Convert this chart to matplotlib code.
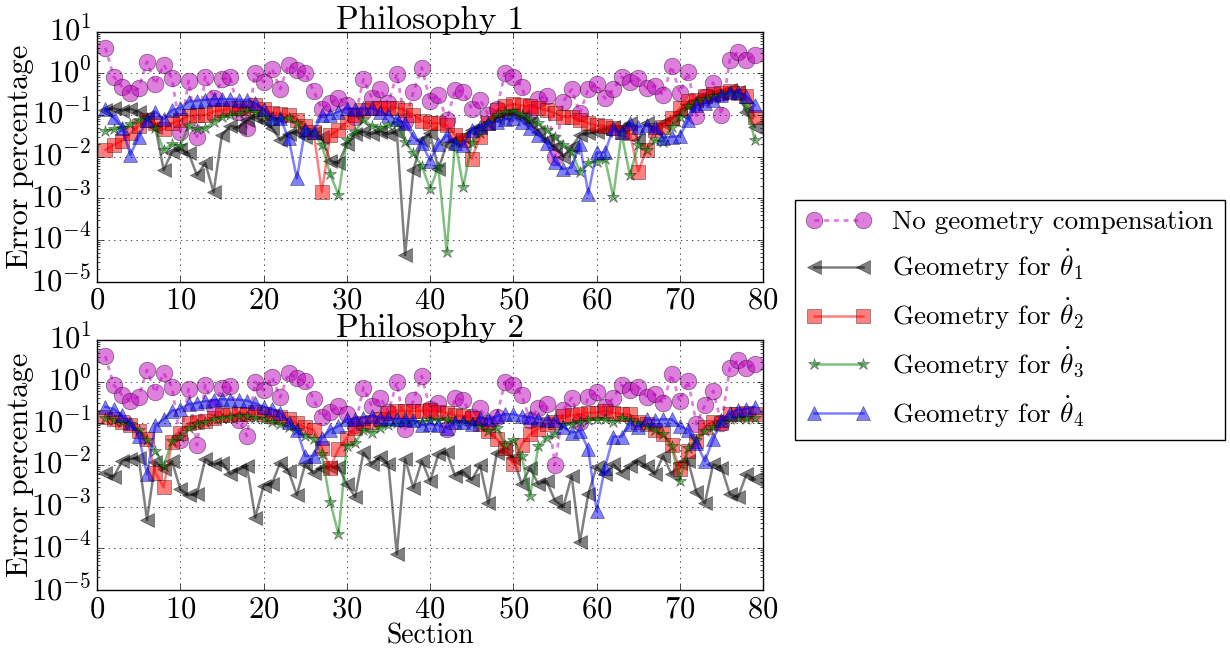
import numpy as np
import matplotlib
matplotlib.use('Agg')
import matplotlib.pyplot as plt

# sections along the path
sections = np.arange(1, 80)

# no geometry compensation (same in both philosophies)
no_comp = [4.1, 0.83, 0.48, 0.34, 0.44, 1.9, 0.55, 1.6, 0.76, 0.04,
           0.66, 0.03, 0.83, 0.25, 0.72, 0.8, 0.12, 0.05, 1.0, 0.62,
           1.3, 0.42, 1.6, 1.2, 1.04, 0.38, 0.14, 0.19, 0.26, 0.17,
           0.09, 0.72, 0.26, 0.41, 0.19, 0.96, 0.072, 0.36, 1.37, 0.22,
           0.30, 0.074, 0.40, 0.36, 0.14, 0.23, 0.1, 0.14, 1.0, 0.83,
           0.48, 0.12, 0.24, 0.29, 0.01, 0.21, 0.41, 0.11, 0.42, 0.55,
           0.25, 0.41, 0.83, 0.63, 0.76, 0.44, 0.5, 0.30, 1.5, 0.34,
           1.05, 0.096, 0.27, 0.6, 0.1, 2.1, 3.3, 2.1, 2.7]

# philosophy 1
p1_theta1 = [0.13, 0.145, 0.127, 0.14, 0.12, 0.09, 0.052, 0.0048, 0.013, 0.015,
             0.012, 0.0036, 0.007, 0.0014, 0.033, 0.055, 0.05, 0.076, 0.09, 0.07,
             0.05, 0.025, 0.035, 0.04, 0.03, 0.036, 0.03, 0.008, 0.007, 0.02,
             0.035, 0.04, 0.035, 0.04, 0.035, 0.04, 4.4e-5, 0.0048, 0.025, 0.036,
             0.005, 0.02, 0.025, 0.03, 0.044, 0.052, 0.065, 0.083, 0.1, 0.11,
             0.09, 0.063, 0.04, 0.025, 0.017, 0.01, 0.017, 0.033, 0.036, 0.04,
             0.044, 0.052, 0.05, 0.063, 0.025, 0.063, 0.045, 0.063, 0.08, 0.12,
             0.17, 0.23, 0.28, 0.3, 0.33, 0.4, 0.36, 0.12, 0.052]
p1_theta2 = [0.0145, 0.019, 0.024, 0.036, 0.055, 0.076, 0.063, 0.045, 0.063, 0.076,
             0.095, 0.1, 0.1, 0.12, 0.13, 0.145, 0.15, 0.15, 0.17, 0.14,
             0.11, 0.105, 0.1, 0.076, 0.055, 0.04, 0.0014, 0.033, 0.044, 0.069,
             0.1, 0.13, 0.145, 0.145, 0.15, 0.15, 0.13, 0.1, 0.073, 0.063,
             0.063, 0.057, 0.033, 0.025, 0.009, 0.03, 0.063, 0.13, 0.166, 0.18,
             0.17, 0.16, 0.145, 0.13, 0.11, 0.09, 0.09, 0.076, 0.063, 0.057,
             0.055, 0.048, 0.04, 0.036, 0.0044, 0.0145, 0.043, 0.052, 0.083, 0.145,
             0.22, 0.23, 0.29, 0.32, 0.33, 0.38, 0.34, 0.28, 0.091]
p1_theta3 = [0.042, 0.045, 0.05, 0.06, 0.076, 0.083, 0.048, 0.0145, 0.02, 0.018,
             0.055, 0.045, 0.048, 0.069, 0.09, 0.1, 0.11, 0.13, 0.12, 0.1,
             0.076, 0.08, 0.083, 0.063, 0.044, 0.036, 0.019, 0.0038, 0.0012, 0.025,
             0.04, 0.076, 0.055, 0.05, 0.057, 0.065, 0.023, 0.012, 0.006, 0.0017,
             0.0055, 5.2e-5, 0.023, 0.0019, 0.021, 0.036, 0.063, 0.1, 0.12, 0.127,
             0.1, 0.079, 0.063, 0.044, 0.03, 0.019, 0.013, 0.0044, 0.007, 0.0076,
             0.009, 0.0011, 0.036, 0.0036, 0.019, 0.0145, 0.025, 0.023, 0.052, 0.09,
             0.16, 0.21, 0.24, 0.28, 0.3, 0.33, 0.3, 0.17, 0.025]
p1_theta4 = [0.14, 0.087, 0.05, 0.011, 0.03, 0.076, 0.12, 0.079, 0.13, 0.15,
             0.21, 0.22, 0.23, 0.24, 0.24, 0.24, 0.23, 0.23, 0.19, 0.14,
             0.083, 0.083, 0.028, 0.003, 0.046, 0.04, 0.1, 0.1, 0.12, 0.145,
             0.14, 0.145, 0.145, 0.12, 0.1, 0.079, 0.063, 0.03, 0.021, 0.008,
             0.02, 0.033, 0.021, 0.019, 0.044, 0.052, 0.063, 0.069, 0.079, 0.083,
             0.069, 0.048, 0.033, 0.021, 0.0076, 0.005, 0.0055, 0.02, 0.0013, 0.0126,
             0.0126, 0.048, 0.04, 0.063, 0.052, 0.057, 0.052, 0.028, 0.03, 0.031,
             0.076, 0.17, 0.19, 0.23, 0.3, 0.36, 0.36, 0.28, 0.17]

# philosophy 2
p2_theta1 = [0.0063, 0.0052, 0.0125, 0.014, 0.015, 0.00048, 0.012, 0.008, 0.0125, 0.0026,
             0.0019, 0.002, 0.014, 0.0104, 0.0114, 0.006, 0.0078, 0.0095, 0.00055, 0.0032,
             0.0035, 0.0114, 0.0072, 0.0019, 0.0104, 0.0063, 0.0086, 0.009, 0.009, 0.0035,
             0.0017, 0.02, 0.0104, 0.016, 0.0104, 7.3e-5, 0.014, 0.0028, 0.0125, 0.0041,
             0.018, 0.02, 0.0056, 0.0068, 0.0044, 0.0098, 0.0012, 0.019, 0.022, 0.015,
             0.0035, 0.0086, 0.0035, 0.0041, 0.0014, 0.001, 0.0055, 0.00014, 0.002, 0.009,
             0.006, 0.0104, 0.0066, 0.0095, 0.0125, 0.0095, 0.006, 0.0165, 0.006, 0.0114,
             0.0125, 0.0022, 0.0012, 0.0104, 0.0087, 0.002, 0.0017, 0.006, 0.0045]
p2_theta2 = [0.145, 0.125, 0.11, 0.09, 0.066, 0.043, 0.0066, 0.0029, 0.036, 0.06,
             0.1, 0.11, 0.115, 0.137, 0.155, 0.16, 0.17, 0.17, 0.19, 0.165,
             0.15, 0.14, 0.125, 0.1, 0.08, 0.07, 0.026, 0.0087, 0.024, 0.045,
             0.079, 0.1, 0.11, 0.125, 0.18, 0.2, 0.2, 0.2, 0.2, 0.21,
             0.19, 0.18, 0.155, 0.15, 0.137, 0.095, 0.066, 0.043, 0.026, 0.0104,
             0.031, 0.054, 0.074, 0.095, 0.11, 0.15, 0.155, 0.165, 0.18, 0.18,
             0.2, 0.18, 0.165, 0.165, 0.11, 0.095, 0.069, 0.054, 0.03, 0.0079,
             0.022, 0.038, 0.083, 0.11, 0.1, 0.165, 0.165, 0.18, 0.165]
p2_theta3 = [0.137, 0.12, 0.107, 0.095, 0.07, 0.04, 0.022, 0.0095, 0.038, 0.048,
             0.078, 0.095, 0.107, 0.125, 0.137, 0.145, 0.15, 0.15, 0.137, 0.13,
             0.11, 0.095, 0.083, 0.07, 0.051, 0.043, 0.018, 0.0013, 0.00022, 0.029,
             0.034, 0.07, 0.06, 0.079, 0.09, 0.1, 0.105, 0.11, 0.11, 0.12,
             0.12, 0.125, 0.11, 0.11, 0.1, 0.086, 0.066, 0.079, 0.031, 0.04,
             0.0165, 0.0018, 0.028, 0.045, 0.057, 0.09, 0.095, 0.11, 0.12, 0.125,
             0.125, 0.11, 0.137, 0.12, 0.1, 0.086, 0.07, 0.054, 0.029, 0.0041,
             0.026, 0.04, 0.066, 0.083, 0.11, 0.125, 0.137, 0.125, 0.137]
p2_theta4 = [0.25, 0.22, 0.155, 0.1, 0.05, 0.006, 0.09, 0.125, 0.2, 0.22,
             0.29, 0.31, 0.34, 0.36, 0.38, 0.37, 0.37, 0.35, 0.3, 0.25,
             0.22, 0.18, 0.11, 0.07, 0.0165, 0.0165, 0.045, 0.07, 0.086, 0.125,
             0.125, 0.137, 0.15, 0.137, 0.137, 0.125, 0.125, 0.12, 0.09, 0.095,
             0.09, 0.079, 0.11, 0.11, 0.095, 0.137, 0.125, 0.15, 0.165, 0.165,
             0.15, 0.14, 0.13, 0.12, 0.12, 0.083, 0.06, 0.065, 0.024, 0.0008,
             0.0087, 0.048, 0.048, 0.095, 0.083, 0.125, 0.12, 0.125, 0.125, 0.086,
             0.07, 0.033, 0.0125, 0.041, 0.12, 0.18, 0.21, 0.22, 0.25]

labels = ['No geometry compensation',
          r'Geometry for $\dot{\theta}_1$',
          r'Geometry for $\dot{\theta}_2$',
          r'Geometry for $\dot{\theta}_3$',
          r'Geometry for $\dot{\theta}_4$']

plt.style.use('classic')
plt.rcParams.update({
    'font.family': 'serif',
    'font.serif': ['cmr10'],
    'mathtext.fontset': 'cm',
    'axes.unicode_minus': False,
    'axes.formatter.use_mathtext': True,
    'font.size': 19,
    'xtick.labelsize': 22,
    'ytick.labelsize': 22,
    'figure.facecolor': 'white',
    'savefig.facecolor': 'white',
})

fig = plt.figure(figsize=(12.3, 6.55), dpi=100)
ax1 = fig.add_axes([0.0789, 0.570, 0.5415, 0.3817])
ax2 = fig.add_axes([0.0789, 0.0992, 0.5415, 0.3817])


def draw(ax, t1, t2, t3, t4, title):
    ax.semilogy(sections, no_comp, 'mo--', ms=12, lw=2, alpha=0.5, dashes=(3.5, 3.5),
                label=labels[0])
    ax.semilogy(sections, t1, 'k<-', ms=10, lw=1.8, alpha=0.5, label=labels[1])
    ax.semilogy(sections, t2, 'rs-', ms=9.5, lw=1.8, alpha=0.5, label=labels[2])
    ax.semilogy(sections, t3, 'g*-', ms=9, lw=1.8, alpha=0.5, label=labels[3])
    ax.semilogy(sections, t4, 'b^-', ms=10, lw=1.8, alpha=0.5, label=labels[4])
    ax.set_xlim(0, 80)
    ax.set_ylim(1e-5, 1e1)
    ax.set_xticks(np.arange(0, 81, 10))
    ax.grid(True, which='major')
    ax.set_ylabel('Error percentage', fontsize=22, labelpad=-2)
    ax.set_title(title, fontsize=24, pad=2)


draw(ax1, p1_theta1, p1_theta2, p1_theta3, p1_theta4, 'Philosophy 1')
draw(ax2, p2_theta1, p2_theta2, p2_theta3, p2_theta4, 'Philosophy 2')
ax2.set_xlabel('Section', fontsize=20, labelpad=0)

handles, labs = ax1.get_legend_handles_labels()
fig.legend(handles, labs, loc='center left', bbox_to_anchor=(795 / 1230, 1 - 320 / 655),
           borderaxespad=0, numpoints=2, fontsize=19.5, handlelength=2.4,
           handletextpad=0.8)

fig.savefig('out.png', dpi=100)
